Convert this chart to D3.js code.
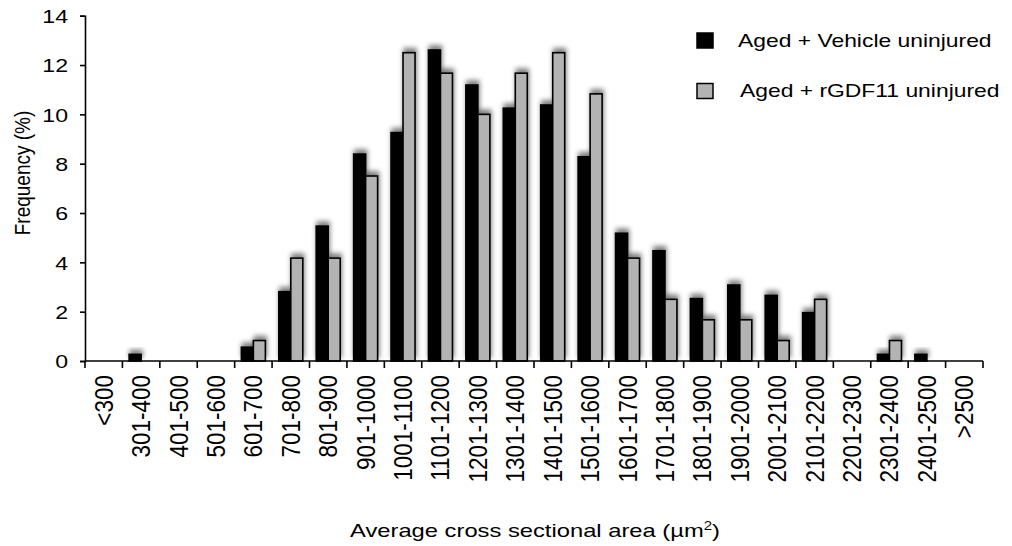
<!DOCTYPE html>
<html>
<head>
<meta charset="utf-8">
<script src="https://cdn.jsdelivr.net/npm/d3@7"></script>
<style>
  html, body { margin: 0; padding: 0; background: #fff; }
  text { font-family: "Liberation Sans", Arial, Helvetica, sans-serif; fill: #000; }
</style>
</head>
<body>
<svg id="chart" width="1012" height="546"></svg>
<script>
// Fibre size classes (µm²)
const categories = ["<300", "301-400", "401-500", "501-600", "601-700", "701-800",
  "801-900", "901-1000", "1001-1100", "1101-1200", "1201-1300", "1301-1400",
  "1401-1500", "1501-1600", "1601-1700", "1701-1800", "1801-1900", "1901-2000",
  "2001-2100", "2101-2200", "2201-2300", "2301-2400", "2401-2500", ">2500"];

// Frequency (%) per size class
const vehicle = [0, 0.27, 0, 0, 0.56, 2.81, 5.47, 8.39, 9.26, 12.61, 11.19, 10.25,
  10.38, 8.28, 5.18, 4.47, 2.53, 3.08, 2.66, 1.96, 0, 0.27, 0.27, 0];
const rgdf11 = [0, 0, 0, 0, 0.83, 4.17, 4.17, 7.5, 12.5, 11.67, 10.0, 11.67,
  12.5, 10.83, 4.17, 2.5, 1.67, 1.67, 0.83, 2.5, 0, 0.83, 0, 0];

const seriesNames = ["Aged + Vehicle uninjured", "Aged + rGDF11 uninjured"];
const yTicks = [0, 2, 4, 6, 8, 10, 12, 14];

const SX = 1.25; // horizontal stretch applied to all type
const svg = d3.select("#chart");
const margin = { left: 85, right: 1012 - 983, top: 15.7, bottom: 546 - 361 };
const W = 1012, H = 546;

const x = d3.scaleBand().domain(categories).range([margin.left, W - margin.right]).padding(0);
const sub = d3.scaleBand().domain([0, 1]).range([0, x.bandwidth()]).paddingInner(0).paddingOuter(0.56);
const y = d3.scaleLinear().domain([0, 14]).range([H - margin.bottom, margin.top]);

// soft shadow sitting just above each bar
const defs = svg.append("defs");
const f = defs.append("filter").attr("id", "shade")
  .attr("x", "-100%").attr("y", "-100%").attr("width", "300%").attr("height", "300%");
f.append("feGaussianBlur").attr("in", "SourceAlpha").attr("stdDeviation", 2.6).attr("result", "b");
f.append("feOffset").attr("in", "b").attr("dx", 0.5).attr("dy", -4.5).attr("result", "o");
f.append("feFlood").attr("flood-color", "#000").attr("flood-opacity", 0.5).attr("result", "c");
f.append("feComposite").attr("in", "c").attr("in2", "o").attr("operator", "in").attr("result", "s");
const m = f.append("feMerge");
m.append("feMergeNode").attr("in", "s");
m.append("feMergeNode").attr("in", "SourceGraphic");

// bars
const rows = categories.map((c, i) => ({ c, v: [vehicle[i], rgdf11[i]] }));
const fills = ["#000000", "#b3b3b3"];
const gBars = svg.append("g");
rows.forEach(r => {
  [0, 1].forEach(k => {
    const v = r.v[k];
    if (v <= 0) return;
    gBars.append("rect")
      .attr("x", x(r.c) + sub(k))
      .attr("y", y(v))
      .attr("width", sub.bandwidth())
      .attr("height", y(0) - y(v))
      .attr("fill", fills[k])
      .attr("stroke", "#000")
      .attr("stroke-width", 1.6)
      .attr("filter", "url(#shade)");
  });
});

// y axis
const yAxis = svg.append("g")
  .attr("transform", `translate(${margin.left},0)`)
  .call(d3.axisLeft(y).tickValues(yTicks).tickSize(5).tickFormat(d3.format("d")));
yAxis.select(".domain").attr("stroke", "#000").attr("stroke-width", 1.6);
yAxis.selectAll(".tick line").attr("stroke", "#000").attr("stroke-width", 1.6);
yAxis.selectAll(".tick text").remove();
yAxis.selectAll(".tick").append("text")
  .attr("transform", `translate(-17,0) scale(${SX},1)`)
  .attr("text-anchor", "end")
  .attr("dy", "0.36em")
  .style("font-size", "18.5px")
  .text(d => d);

// x axis with ticks on class boundaries
const xAxis = svg.append("g").attr("transform", `translate(0,${y(0)})`);
xAxis.append("line")
  .attr("x1", margin.left).attr("x2", W - margin.right)
  .attr("stroke", "#000").attr("stroke-width", 1.6);
const bounds = categories.map(c => x(c)).concat([x(categories[categories.length - 1]) + x.bandwidth()]);
xAxis.selectAll("line.tk").data(bounds).enter().append("line")
  .attr("class", "tk")
  .attr("x1", d => d).attr("x2", d => d)
  .attr("y1", 0).attr("y2", 7)
  .attr("stroke", "#000").attr("stroke-width", 1.6);
svg.append("g").selectAll("text").data(categories).enter().append("text")
  .attr("transform", d => `translate(${x(d) + x.bandwidth() / 2 + 9},375) scale(1.12,1) rotate(-90)`)
  .attr("text-anchor", "end")
  .style("font-size", "22.5px")
  .text(d => d);

// axis titles
svg.append("text")
  .attr("transform", `translate(30,173) scale(1.2,1) rotate(-90)`)
  .attr("text-anchor", "middle")
  .style("font-size", "19px")
  .text("Frequency (%)");

const xt = svg.append("text")
  .attr("transform", `translate(350,536.5) scale(${SX},1)`)
  .style("font-size", "19px");
xt.append("tspan").text("Average cross sectional area (µm");
xt.append("tspan").attr("dy", -7).style("font-size", "12px").text("2");
xt.append("tspan").attr("dy", 7).text(")");

// legend
const legend = svg.append("g");
const legY = [33, 83.5];
seriesNames.forEach((name, k) => {
  legend.append("rect")
    .attr("x", 697).attr("y", legY[k])
    .attr("width", 16).attr("height", 15)
    .attr("fill", fills[k]).attr("stroke", "#000").attr("stroke-width", 1.5);
  legend.append("text")
    .attr("transform", `translate(${k === 0 ? 738 : 740},${legY[k] + 13.5}) scale(${SX},1)`)
    .style("font-size", "18.3px")
    .text(name);
});
</script>
</body>
</html>
